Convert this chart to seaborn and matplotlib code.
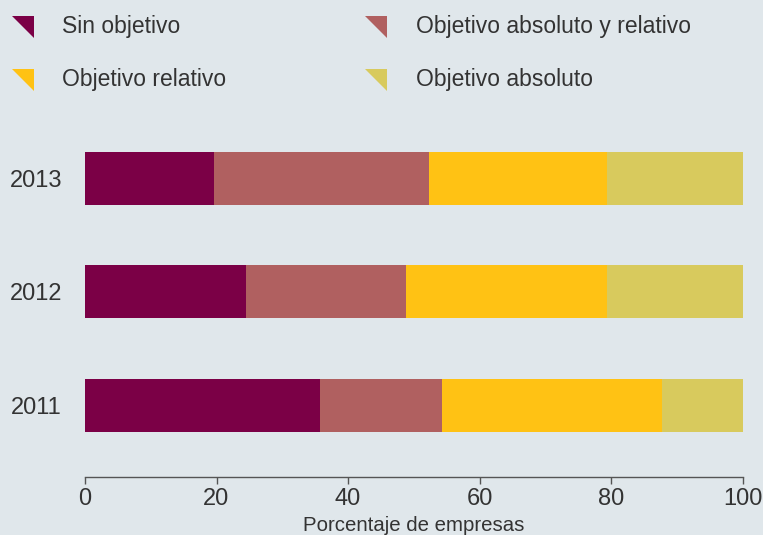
import numpy as np
import pandas as pd
import matplotlib
matplotlib.use('Agg')
import matplotlib.pyplot as plt
from matplotlib.path import Path
from matplotlib.lines import Line2D
import seaborn as sns

# Data (percent of companies)
years = ['2013', '2012', '2011']
series = ['Sin objetivo', 'Objetivo absoluto y relativo', 'Objetivo relativo', 'Objetivo absoluto']
sin_objetivo = [19.6, 24.5, 35.7]
abs_y_rel = [32.7, 24.3, 18.6]
relativo = [27.1, 30.6, 33.5]
absoluto = [20.6, 20.6, 12.2]
colors = ['#7b0046', '#b06060', '#ffc214', '#d8ca5d']

bg = '#e0e7eb'
txt = '#333333'
W, H = 763, 535

sns.set_style('white')
plt.rcParams['font.family'] = ['Liberation Sans', 'DejaVu Sans']

df = pd.DataFrame({'year': years, series[0]: sin_objetivo, series[1]: abs_y_rel,
                   series[2]: relativo, series[3]: absoluto})
cum = df[series].cumsum(axis=1)

fig = plt.figure(figsize=(W / 100, H / 100), dpi=100, facecolor=bg)
ax = fig.add_axes([85 / W, 1 - 477 / H, 657.5 / W, (477 - 121.25) / H])
ax.set_facecolor(bg)

# draw from the longest cumulative segment back to the first one
for name, col in reversed(list(zip(series, colors))):
    sns.barplot(x=cum[name], y=df['year'], color=col, orient='h', width=0.467,
                saturation=1, ax=ax, linewidth=0)

ax.set_xlim(0, 100)
ax.set_ylim(2.634, -0.5)
ax.set_xticks([0, 20, 40, 60, 80, 100])
ax.set_xlabel('Porcentaje de empresas', fontsize=14.7, color=txt, labelpad=4.5)
ax.set_ylabel('')
for s in ['top', 'right', 'left']:
    ax.spines[s].set_visible(False)
ax.spines['bottom'].set_color('#555555')
ax.spines['bottom'].set_linewidth(1)
ax.tick_params(axis='x', bottom=True, direction='out', length=5, width=1, color='#555555',
               labelsize=17, labelcolor=txt, pad=3)
ax.tick_params(axis='y', left=False, length=0, labelsize=17, labelcolor=txt, pad=16.5)

# legend with corner-triangle markers, placed by hand in pixel positions
tri = Path([(-1, 1), (1, 1), (1, -1), (-1, 1)], [Path.MOVETO, Path.LINETO, Path.LINETO, Path.CLOSEPOLY])
leg_pos = [(22.5, 27, 62, 33), (376, 27, 415.5, 33), (22.5, 80, 62, 86), (376, 80, 415.5, 86)]
for (mx, my, tx, ty), name, col in zip(leg_pos, series, colors):
    fig.add_artist(Line2D([mx / W], [1 - my / H], linestyle='none', marker=tri, markersize=16,
                          markerfacecolor=col, markeredgewidth=0, transform=fig.transFigure))
    fig.text(tx / W, 1 - ty / H, name, fontsize=16.5, color=txt, ha='left', va='baseline')

fig.savefig('out.png', dpi=100, facecolor=bg)
